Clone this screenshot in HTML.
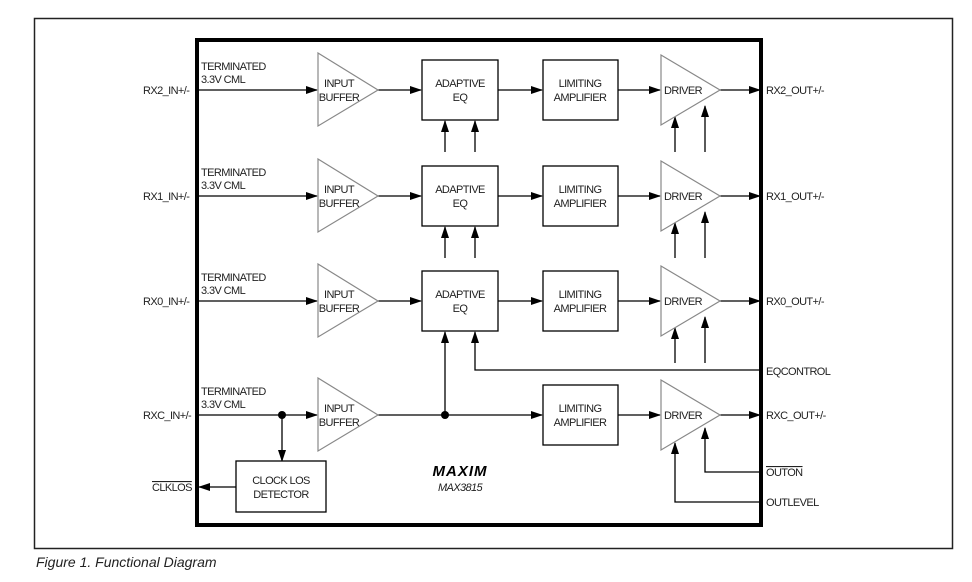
<!DOCTYPE html>
<html><head><style>
body{margin:0;background:#fff}
svg text{font-family:"Liberation Sans",sans-serif;font-size:11px;fill:#222;letter-spacing:-0.6px}
</style></head><body>
<svg width="972" height="577" viewBox="0 0 972 577" xmlns="http://www.w3.org/2000/svg">
<defs>
<marker id="a" markerWidth="12" markerHeight="8" refX="11" refY="4" orient="auto" markerUnits="userSpaceOnUse"><path d="M0,0 L12,4 L0,8 Z" fill="#000"/></marker>
</defs>
<rect x="34.5" y="18.5" width="918" height="530" fill="none" stroke="#222" stroke-width="1.5"/>
<rect x="197" y="40" width="564" height="485" fill="none" stroke="#000" stroke-width="4"/>
<g stroke="#000" stroke-width="1.3" fill="none">
<g id="r2">
<line x1="199" y1="90" x2="317" y2="90" marker-end="url(#a)"/>
<line x1="378" y1="90" x2="421" y2="90" marker-end="url(#a)"/>
<line x1="498" y1="90" x2="542" y2="90" marker-end="url(#a)"/>
<line x1="618" y1="90" x2="660" y2="90" marker-end="url(#a)"/>
<line x1="720" y1="90" x2="760" y2="90" marker-end="url(#a)"/>
<line x1="445" y1="152" x2="445" y2="121" marker-end="url(#a)"/>
<line x1="475" y1="152" x2="475" y2="121" marker-end="url(#a)"/>
<line x1="675" y1="152" x2="675" y2="117" marker-end="url(#a)"/>
<line x1="705" y1="152" x2="705" y2="106" marker-end="url(#a)"/>
</g>
<use href="#r2" y="106"/>
<g transform="translate(0,211)">
<line x1="199" y1="90" x2="317" y2="90" marker-end="url(#a)"/>
<line x1="378" y1="90" x2="421" y2="90" marker-end="url(#a)"/>
<line x1="498" y1="90" x2="542" y2="90" marker-end="url(#a)"/>
<line x1="618" y1="90" x2="660" y2="90" marker-end="url(#a)"/>
<line x1="720" y1="90" x2="760" y2="90" marker-end="url(#a)"/>
<line x1="675" y1="152" x2="675" y2="117" marker-end="url(#a)"/>
<line x1="705" y1="152" x2="705" y2="106" marker-end="url(#a)"/>
</g>
<line x1="445" y1="415" x2="445" y2="332" marker-end="url(#a)"/>
<polyline points="760,370 475,370 475,332" marker-end="url(#a)"/>
<line x1="199" y1="415" x2="317" y2="415" marker-end="url(#a)"/>
<line x1="378" y1="415" x2="542" y2="415" marker-end="url(#a)"/>
<line x1="618" y1="415" x2="660" y2="415" marker-end="url(#a)"/>
<line x1="720" y1="415" x2="760" y2="415" marker-end="url(#a)"/>
<line x1="282" y1="415" x2="282" y2="461" marker-end="url(#a)"/>
<line x1="236" y1="487" x2="199" y2="487" marker-end="url(#a)"/>
<polyline points="760,472 705,472 705,428" marker-end="url(#a)"/>
<polyline points="760,502 675,502 675,443" marker-end="url(#a)"/>
<g fill="#fff">
<rect x="422" y="60" width="76" height="60"/><rect x="543" y="60" width="75" height="60"/>
<rect x="422" y="166" width="76" height="60"/><rect x="543" y="166" width="75" height="60"/>
<rect x="422" y="271" width="76" height="60"/><rect x="543" y="271" width="75" height="60"/>
<rect x="543" y="385" width="75" height="60"/>
<rect x="236" y="461" width="90" height="51"/>
</g>
<g fill="#fff" stroke="#888" stroke-width="1.2">
<path d="M318,53 L378,90 L318,126 Z"/><path d="M661,55 L720,90 L661,125 Z"/>
<path d="M318,159 L378,196 L318,232 Z"/><path d="M661,161 L720,196 L661,231 Z"/>
<path d="M318,264 L378,301 L318,337 Z"/><path d="M661,266 L720,301 L661,336 Z"/>
<path d="M318,378 L378,415 L318,451 Z"/><path d="M661,380 L720,415 L661,450 Z"/>
</g>
</g>
<circle cx="282" cy="415" r="4" fill="#000"/><circle cx="445" cy="415" r="4" fill="#000"/>
<g>
<text x="201" y="70">TERMINATED</text><text x="201" y="83">3.3V CML</text>
<text x="201" y="176">TERMINATED</text><text x="201" y="189">3.3V CML</text>
<text x="201" y="281">TERMINATED</text><text x="201" y="294">3.3V CML</text>
<text x="201" y="395">TERMINATED</text><text x="201" y="408">3.3V CML</text>
<text x="143" y="94">RX2_IN+/-</text><text x="143" y="200">RX1_IN+/-</text>
<text x="143" y="305">RX0_IN+/-</text><text x="143" y="419">RXC_IN+/-</text>
<text x="152" y="491" text-decoration="overline">CLKLOS</text>
<text x="766" y="94">RX2_OUT+/-</text><text x="766" y="200">RX1_OUT+/-</text>
<text x="766" y="305">RX0_OUT+/-</text><text x="766" y="419">RXC_OUT+/-</text>
<text x="766" y="375">EQCONTROL</text>
<text x="766" y="476" text-decoration="overline">OUTON</text>
<text x="766" y="506">OUTLEVEL</text>
</g>
<g text-anchor="middle">
<g id="t2"><text x="339" y="87">INPUT</text><text x="339" y="101">BUFFER</text>
<text x="460" y="87">ADAPTIVE</text><text x="460" y="101">EQ</text>
<text x="580" y="87">LIMITING</text><text x="580" y="101">AMPLIFIER</text>
<text x="683" y="94">DRIVER</text></g>
<use href="#t2" y="106"/><use href="#t2" y="211"/>
<text x="339" y="412">INPUT</text><text x="339" y="426">BUFFER</text>
<text x="580" y="412">LIMITING</text><text x="580" y="426">AMPLIFIER</text>
<text x="683" y="419">DRIVER</text>
<text x="281" y="484">CLOCK LOS</text><text x="281" y="498">DETECTOR</text>
<text x="460" y="476" style="font-size:15px;font-weight:bold;font-style:italic;letter-spacing:1px;fill:#000">MAXIM</text>
<text x="460" y="491" style="font-style:italic">MAX3815</text>
</g>
<text x="36" y="567" style="font-size:14px;font-style:italic;letter-spacing:0">Figure 1. Functional Diagram</text>
</svg>
</body></html>
